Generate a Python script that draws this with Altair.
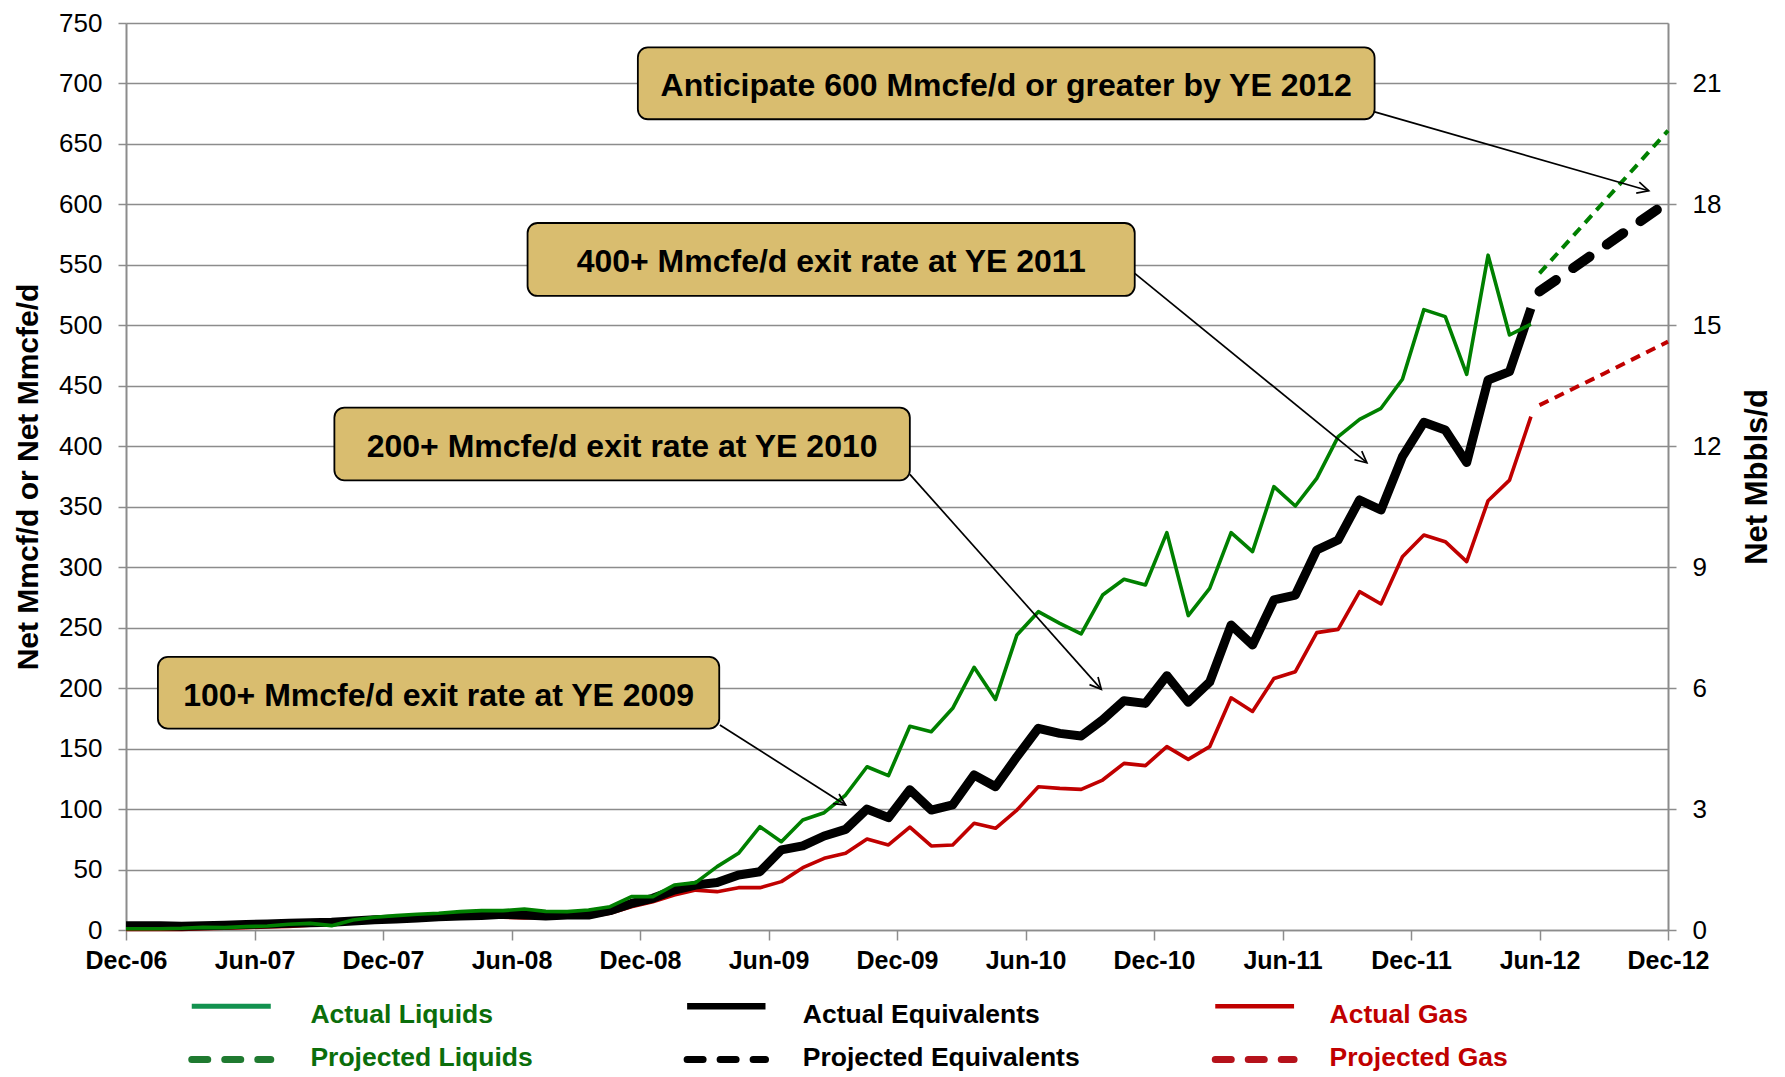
import json
import altair as alt
import pandas as pd

FONT = "Liberation Sans, Arial, Helvetica, sans-serif"
GRAY = "#8c8c8c"

# ---------------- axis ticks / labels ----------------
x_tick_values = [0, 6, 12, 18, 24, 30, 36, 42, 48, 54, 60, 66, 72]
x_tick_labels = ["Dec-06", "Jun-07", "Dec-07", "Jun-08", "Dec-08", "Jun-09", "Dec-09",
                 "Jun-10", "Dec-10", "Jun-11", "Dec-11", "Jun-12", "Dec-12"]
left_tick_values = [0, 50, 100, 150, 200, 250, 300, 350, 400, 450, 500, 550, 600, 650, 700, 750]
right_tick_values = [0, 3, 6, 9, 12, 15, 18, 21]

# ---------------- series (months since Dec-06) ----------------
months_actual = [0.0] + [k + 0.6 for k in range(1, 66)]

liquids_actual = [1, 1, 1.4, 2.2, 2, 2.8, 3.3, 4.7, 5.5, 3.6, 8.3, 10.5, 11.9, 13, 13.8, 15.2, 16, 16, 17.4, 15.4,
                  15.2, 16.5, 19.3, 27.6, 27.6, 37.2, 39.2, 52.4, 63.4, 85.4, 73, 91, 97, 111.6, 135, 127.6, 168.5,
                  164, 183.3, 217.2, 190.7, 244, 263.2, 253.6, 244.8, 277, 290, 285.3, 328.6, 260, 282.5,
                  328.6, 312.9, 366.6, 350.6, 373.5, 408, 422.3, 431.4, 455.4, 513, 507.2, 459.5, 558, 492, 501]

equiv_actual = [3.5, 3.5, 3, 3.5, 4, 4.5, 5, 5.5, 6, 6.5, 7.5, 8.5, 9, 10, 11, 11.5, 12, 13, 12.5, 11.5,
                12.4, 12.4, 16, 22, 26.2, 33, 37.2, 39.2, 45.5, 48.2, 66.2, 69.5, 77.7, 83.2, 100, 92.9, 116,
                99.2, 103.4, 128.2, 118.5, 143.3, 166.8, 162.6, 160.4, 173.7, 189.6, 187.4, 210.3, 188.3, 205,
                252.2, 235.7, 272.9, 277, 314.2, 322.5, 355.6, 347.3, 391.4, 419.8, 413.5, 386.5, 454.8, 461.7, 514]

gas_actual = [0.5, 0.5, 0.5, 1, 1.5, 2, 2.5, 3, 4, 5, 6, 7, 8, 9, 9.5, 10, 10.5, 10.5, 10, 10.5,
              11, 11, 13.8, 19.3, 23.4, 29, 33, 31.7, 35, 35, 40, 51.5, 59.3, 63.4, 75.3, 70.3, 85,
              69.5, 70.3, 88.2, 84.1, 99.2, 118.5, 117.1, 116.3, 124, 137.8, 135.9, 151.6, 141.1, 151.6,
              192, 180.7, 208, 213.6, 245.9, 248.6, 279.8, 269.6, 308.7, 326.6, 321.1, 304.6, 355, 372, 424.5]

months_proj = [66, 69, 72]
liquids_proj = [543, 602, 661]
equiv_proj = [528, 565, 602]
gas_proj = [434, 460, 486.5]

# ---------------- annotations ----------------
ann_text = ["Anticipate 600 Mmcfe/d or greater by YE 2012",
            "400+ Mmcfe/d exit rate at YE 2011",
            "200+ Mmcfe/d exit rate at YE 2010",
            "100+ Mmcfe/d exit rate at YE 2009"]
ann_x1 = [23.9, 18.75, 9.73, 1.49]
ann_x2 = [58.3, 47.1, 36.6, 27.7]
ann_y1 = [670.4, 524.3, 371.8, 166.5]
ann_y2 = [729.8, 584.6, 432.0, 225.8]
arrow_x1 = [58.3, 47.1, 36.6, 27.73]
arrow_y1 = [676.5, 543.0, 376.8, 169.5]
arrow_x2 = [71.1, 57.94, 45.54, 33.6]
arrow_y2 = [611.3, 386.4, 199.0, 103.4]
arrow_angle = [15.8, 39.8, 48.4, 32.5]

# ---------------- legend ----------------
legend_labels = ["Actual Liquids", "Actual Equivalents", "Actual Gas",
                 "Projected Liquids", "Projected Equivalents", "Projected Gas"]
legend_line_x1 = [3.07, 26.2, 50.86, 3.07, 26.2, 50.86]
legend_line_x2 = [6.76, 29.86, 54.54, 6.76, 29.86, 54.54]
legend_text_x = [8.61, 31.6, 56.2, 8.61, 31.6, 56.2]
legend_line_y = [-63, -63, -63, -107, -107, -107]
legend_text_y = [-70, -70, -70, -106, -106, -106]
legend_line_color = ["#12924f", "#000000", "#c00000", "#1f7a30", "#000000", "#b5121b"]
legend_line_width = [5, 6.5, 4.5, 7, 7, 7]
legend_line_dash = [None, None, None, [16, 17], [16, 17], [16, 17]]
legend_text_color = ["#0b6e0b", "#000000", "#c00000", "#0b6e0b", "#000000", "#c00000"]

# ---------------- scales / axes ----------------
W, H = 1542, 907

x_scale = alt.Scale(domain=[0, 72], nice=False, zero=False)
y_scale = alt.Scale(domain=[0, 750], nice=False)

x_axis = alt.Axis(values=x_tick_values,
                  labelExpr=json.dumps(x_tick_labels) + "[round(datum.value / 6)]",
                  title=None, grid=False, tickSize=10, tickWidth=1.5, tickColor=GRAY,
                  domainColor=GRAY, domainWidth=1.5,
                  labelFont=FONT, labelFontSize=25, labelFontWeight="bold", labelColor="#000000",
                  labelPadding=8, labelFlush=False, labelOverlap=False)
y_axis = alt.Axis(values=left_tick_values, title="Net Mmcf/d or Net Mmcfe/d",
                  titleFont=FONT, titleFontSize=30, titleFontWeight="bold", titleColor="#000000",
                  titlePadding=15,
                  grid=True, gridColor=GRAY, gridWidth=1.4,
                  tickSize=8, tickWidth=1.5, tickColor=GRAY,
                  domainColor=GRAY, domainWidth=2,
                  labelFont=FONT, labelFontSize=26, labelColor="#000000", labelPadding=16,
                  labelFlush=False, labelOverlap=False)


def X(field):
    return alt.X(f"{field}:Q", scale=x_scale, axis=x_axis)


def Y(field):
    return alt.Y(f"{field}:Q", scale=y_scale, axis=y_axis)


df_act = pd.DataFrame({"month": months_actual, "liquids": liquids_actual,
                       "equiv": equiv_actual, "gas": gas_actual})
df_proj = pd.DataFrame({"month": months_proj, "liquids": liquids_proj,
                        "equiv": equiv_proj, "gas": gas_proj})

gas_line = alt.Chart(df_act).mark_line(color="#c00000", strokeWidth=3.6, strokeJoin="round").encode(
    x=X("month"), y=Y("gas"))
equiv_line = alt.Chart(df_act).mark_line(color="#000000", strokeWidth=9, strokeJoin="round").encode(
    x=X("month"), y=Y("equiv"))
liq_line = alt.Chart(df_act).mark_line(color="#008000", strokeWidth=3.6, strokeJoin="round").encode(
    x=X("month"), y=Y("liquids"))

gas_p = alt.Chart(df_proj).mark_line(color="#c00000", strokeWidth=4, strokeDash=[10, 7]).encode(
    x=X("month"), y=Y("gas"))
equiv_p = alt.Chart(df_proj).mark_line(color="#000000", strokeWidth=10, strokeDash=[20, 21],
                                       strokeCap="round").encode(x=X("month"), y=Y("equiv"))
liq_p = alt.Chart(df_proj).mark_line(color="#008000", strokeWidth=4, strokeDash=[10, 7]).encode(
    x=X("month"), y=Y("liquids"))

df_ann = pd.DataFrame({"text": ann_text, "x1": ann_x1, "x2": ann_x2, "y1": ann_y1, "y2": ann_y2})
df_ann["xc"] = (df_ann["x1"] + df_ann["x2"]) / 2
df_ann["yc"] = (df_ann["y1"] + df_ann["y2"]) / 2
df_arrow = pd.DataFrame({"ax1": arrow_x1, "ay1": arrow_y1, "ax2": arrow_x2, "ay2": arrow_y2,
                         "angle": arrow_angle})

boxes = alt.Chart(df_ann).mark_rect(fill="#d9bd6f", stroke="#000000", strokeWidth=1.8,
                                    cornerRadius=10).encode(
    x=X("x1"), x2="x2", y=Y("y1"), y2="y2")
box_text = alt.Chart(df_ann).mark_text(font=FONT, fontSize=32, fontWeight="bold", color="#000000",
                                       align="center", baseline="middle", dy=3).encode(
    x=X("xc"), y=Y("yc"), text="text:N")
arrows = alt.Chart(df_arrow).mark_rule(color="#000000", strokeWidth=1.7).encode(
    x=X("ax1"), y=Y("ay1"), x2="ax2", y2="ay2")
heads = alt.Chart(df_arrow).mark_point(shape="M-1,-0.5L0,0L-1,0.5", filled=False, color="#000000",
                                       strokeWidth=1.7, size=520, opacity=1).encode(
    x=X("ax2"), y=Y("ay2"), angle=alt.Angle("angle:Q", scale=None))

legend_layers = []
for i, lab in enumerate(legend_labels):
    d = pd.DataFrame({"lx1": [legend_line_x1[i]], "lx2": [legend_line_x2[i]], "ly": [legend_line_y[i]]})
    kw = dict(color=legend_line_color[i], strokeWidth=legend_line_width[i])
    if legend_line_dash[i] is not None:
        kw["strokeDash"] = legend_line_dash[i]
        kw["strokeCap"] = "round"
    legend_layers.append(alt.Chart(d).mark_rule(**kw).encode(x=X("lx1"), x2="lx2", y=Y("ly")))

df_leg = pd.DataFrame({"label": legend_labels, "tx": legend_text_x, "ty": legend_text_y,
                       "tcolor": legend_text_color})
legend_text = alt.Chart(df_leg).mark_text(font=FONT, fontSize=26.5, fontWeight="bold", align="left",
                                          baseline="middle").encode(
    x=X("tx"), y=Y("ty"), text="label:N", color=alt.Color("tcolor:N", scale=None))

main = alt.layer(gas_line, equiv_line, liq_line, gas_p, equiv_p, liq_p,
                 boxes, box_text, arrows, heads, *legend_layers, legend_text)

right = alt.Chart(pd.DataFrame({"mbbls": right_tick_values})).mark_point(opacity=0).encode(
    y=alt.Y("mbbls:Q", scale=alt.Scale(domain=[0, 22.5], nice=False),
            axis=alt.Axis(orient="right", values=right_tick_values, title="Net Mbbls/d",
                          titleFont=FONT, titleFontSize=31, titleFontWeight="bold", titleColor="#000000",
                          titleAngle=270, titleBaseline="top", titlePadding=22,
                          grid=False, tickSize=8, tickWidth=1.5, tickColor=GRAY,
                          domainColor=GRAY, domainWidth=2,
                          labelFont=FONT, labelFontSize=26, labelColor="#000000", labelPadding=16,
                          labelFlush=False, labelOverlap=False)))

chart = alt.layer(main, right).resolve_scale(y="independent").properties(
    width=W, height=H, padding={"left": 5, "top": 2, "right": 0, "bottom": 0}
).configure_view(fill="#f2f2f2", strokeWidth=0).configure(background="#ffffff")

chart.save("out.html", embed_options={"renderer": "svg", "actions": False})
